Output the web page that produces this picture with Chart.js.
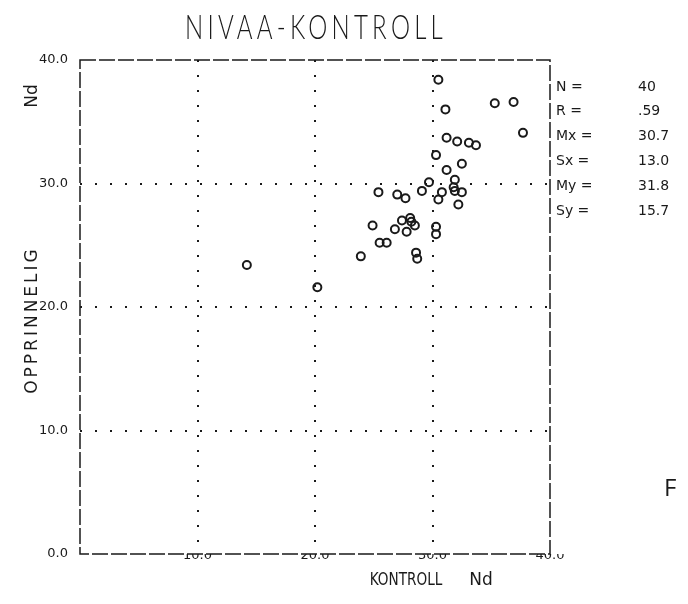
<!DOCTYPE html>
<html>
<head>
<meta charset="utf-8">
<script src="https://cdn.jsdelivr.net/npm/chart.js@4"></script>
<style>
  html, body { margin: 0; padding: 0; background: #fff; }
  #wrap { width: 688px; height: 604px; }
</style>
</head>
<body>
<div id="wrap"><canvas id="c" width="688" height="604"></canvas></div>
<script>
// verdier lest av fra figuren (KONTROLL Nd mot OPPRINNELIG Nd)
const kontroll = [
  30.5, 31.1, 35.3, 36.9, 37.7, 32.1, 33.1, 33.7, 30.3, 32.5,
  31.2, 31.9, 31.8, 29.7, 29.1, 25.4, 27.0, 27.7, 30.5, 31.9,
  32.5, 32.2, 24.9, 27.4, 28.1, 28.5, 27.8, 30.3, 30.3, 25.5,
  26.1, 23.9, 28.6, 28.7, 14.2, 20.2, 26.8, 28.2, 30.8, 31.2
];
const opprinnelig = [
  38.4, 36.0, 36.5, 36.6, 34.1, 33.4, 33.3, 33.1, 32.3, 31.6,
  31.1, 30.3, 29.7, 30.1, 29.4, 29.3, 29.1, 28.8, 28.7, 29.4,
  29.3, 28.3, 26.6, 27.0, 27.2, 26.6, 26.1, 26.5, 25.9, 25.2,
  25.2, 24.1, 24.4, 23.9, 23.4, 21.6, 26.3, 26.9, 29.3, 33.7
];
const axisTicks = [0, 10, 20, 30, 40];
const statLabels = ['N =', 'R =', 'Mx =', 'Sx =', 'My =', 'Sy ='];
const statValues = ['40', '.59', '30.7', '13.0', '31.8', '15.7'];

const ink = '#1a1a1a';
const smallFont = { family: 'DejaVu Sans', size: 13 };

// tittel, aksetekster, statistikk og ramme
const extras = {
  id: 'extras',
  afterDraw(chart) {
    const ctx = chart.ctx;
    const a = chart.chartArea;
    ctx.save();
    ctx.fillStyle = ink;
    ctx.strokeStyle = ink;

    // ramme (stiplet som plotteren)
    ctx.lineWidth = 1.5;
    ctx.setLineDash([16, 3]);
    ctx.strokeRect(a.left, a.top, a.right - a.left, a.bottom - a.top);
    ctx.setLineDash([]);

    // tittel
    ctx.font = '300 34px Lato';
    ctx.textBaseline = 'alphabetic';
    ctx.textAlign = 'left';
    const title = 'NIVAA-KONTROLL';
    ctx.letterSpacing = '6px';
    const w = ctx.measureText(title).width;
    const target = 262;
    ctx.save();
    ctx.translate(316 - target / 2, 39);
    ctx.scale(target / w, 1);
    ctx.fillText(title, 0, 0);
    ctx.restore();
    ctx.letterSpacing = '0px';

    // x-aksetekst
    ctx.font = '17px "DejaVu Sans"';
    ctx.textAlign = 'center';
    ctx.save();
    ctx.translate(406, 585);
    ctx.scale(0.8, 1);
    ctx.fillText('KONTROLL', 0, 0);
    ctx.restore();
    ctx.fillText('Nd', 481, 585);

    // y-aksetekst
    ctx.save();
    ctx.translate(37, 320);
    ctx.rotate(-Math.PI / 2);
    ctx.letterSpacing = '3px';
    ctx.fillText('OPPRINNELIG', 0, 0);
    ctx.letterSpacing = '0px';
    ctx.restore();
    ctx.save();
    ctx.translate(37, 96);
    ctx.rotate(-Math.PI / 2);
    ctx.fillText('Nd', 0, 0);
    ctx.restore();

    // statistikk
    ctx.font = '14px "DejaVu Sans"';
    ctx.textAlign = 'left';
    ctx.textBaseline = 'middle';
    statLabels.forEach((lab, i) => {
      const y = 87 + i * 24.8;
      ctx.fillText(lab, 556, y);
      ctx.fillText(statValues[i], 638, y);
    });

    // bokstav i kanten av skannet
    ctx.font = '24px "Open Sans"';
    ctx.textBaseline = 'alphabetic';
    ctx.fillText('F', 664, 496);
    ctx.restore();
  }
};

const gridColor = (c) => (c.tick && (c.tick.value === 0 || c.tick.value === 40)) ? 'rgba(0,0,0,0)' : ink;

new Chart(document.getElementById('c'), {
  type: 'scatter',
  data: {
    datasets: [{
      data: kontroll.map((x, i) => ({ x: x, y: opprinnelig[i] })),
      pointStyle: 'circle',
      pointRadius: 4,
      borderColor: ink,
      borderWidth: 2,
      backgroundColor: 'rgba(0,0,0,0)'
    }]
  },
  options: {
    responsive: false,
    animation: false,
    devicePixelRatio: 1,
    layout: { padding: { top: 60, right: 138, left: 0, bottom: 0 } },
    plugins: { legend: { display: false }, tooltip: { enabled: false } },
    scales: {
      x: {
        type: 'linear',
        min: 0, max: 40,
        afterBuildTicks: (s) => { s.ticks = axisTicks.map(v => ({ value: v })); },
        afterFit: (s) => { s.height = 50; },
        ticks: {
          color: ink, font: smallFont, padding: -6, maxRotation: 0,
          callback: (v) => v === 0 ? '' : v.toFixed(1)
        },
        grid: { color: gridColor, lineWidth: 2, drawTicks: false },
        border: { display: false, dash: [2, 13] }
      },
      y: {
        type: 'linear',
        min: 0, max: 40,
        afterBuildTicks: (s) => { s.ticks = axisTicks.map(v => ({ value: v })); },
        afterFit: (s) => { s.width = 80; },
        ticks: {
          color: ink, font: smallFont, padding: 12,
          callback: (v) => v.toFixed(1)
        },
        grid: { color: gridColor, lineWidth: 2, drawTicks: false },
        border: { display: false, dash: [2, 13] }
      }
    }
  },
  plugins: [extras]
});
</script>
</body>
</html>
